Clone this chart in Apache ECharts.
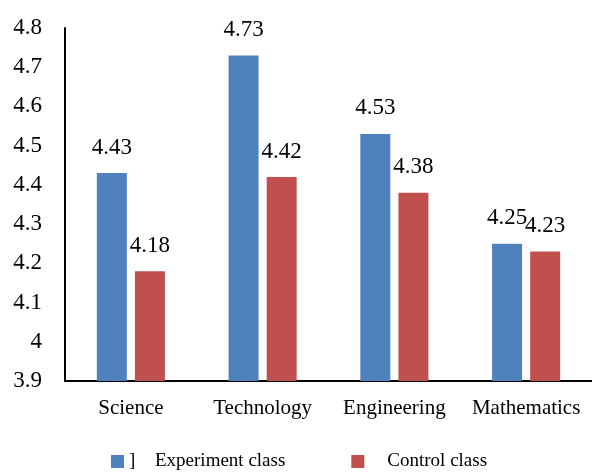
<!DOCTYPE html>
<html>
<head>
<meta charset="utf-8">
<script src="https://cdn.jsdelivr.net/npm/echarts@6/dist/echarts.min.js"></script>
<style>html,body{margin:0;padding:0;background:#fff}#c{width:592px;height:473px}</style>
</head>
<body>
<div id="c"></div>
<script>
var categories = ['Science', 'Technology', 'Engineering', 'Mathematics'];
var experimentValues = [4.43, 4.73, 4.53, 4.25];
var controlValues = [4.18, 4.42, 4.38, 4.23];
var seriesNames = ['Experiment class', 'Control class'];

var FONT = 'Liberation Serif';
var chart = echarts.init(document.getElementById('c'));
chart.setOption({
  animation: false,
  textStyle: { fontFamily: FONT, color: '#000' },
  grid: { left: 65, right: 0, top: 28, bottom: 92 },
  legend: {
    left: 111, top: 452, padding: 0,
    itemWidth: 13, itemHeight: 13, itemGap: 66,
    icon: 'rect',
    data: seriesNames,
    textStyle: {
      fontFamily: FONT, fontSize: 19, color: '#000',
      rich: {
        br: { width: 26, fontFamily: FONT, fontSize: 19, color: '#000' },
        sp: { width: 18 },
        t: { fontFamily: FONT, fontSize: 19, color: '#000' }
      }
    },
    formatter: function (n) {
      return n === seriesNames[0] ? '{br|]}{t|' + n + '}' : '{sp|}{t|' + n + '}';
    }
  },
  xAxis: {
    type: 'category',
    data: categories,
    axisLine: { lineStyle: { color: '#000', width: 2 } },
    axisTick: { show: false },
    axisLabel: { interval: 0, fontFamily: FONT, fontSize: 21, color: '#000', margin: 17 }
  },
  yAxis: {
    type: 'value',
    min: 3.9, max: 4.8, interval: 0.1,
    axisLine: { show: true, lineStyle: { color: '#000', width: 2 } },
    axisTick: { show: false },
    splitLine: { show: false },
    axisLabel: {
      fontFamily: FONT, fontSize: 23, color: '#000', margin: 23,
      formatter: function (v) { return String(Math.round(v * 10) / 10); }
    }
  },
  series: [
    {
      name: seriesNames[0], type: 'bar', data: experimentValues,
      barWidth: 30, barGap: '27%',
      itemStyle: { color: '#4F81BD' },
      label: { show: true, position: 'top', distance: 14, fontFamily: FONT, fontSize: 23, color: '#000' }
    },
    {
      name: seriesNames[1], type: 'bar', data: controlValues,
      barWidth: 30,
      itemStyle: { color: '#C0504D' },
      label: { show: true, position: 'top', distance: 14, fontFamily: FONT, fontSize: 23, color: '#000' }
    }
  ]
});
</script>
</body>
</html>
